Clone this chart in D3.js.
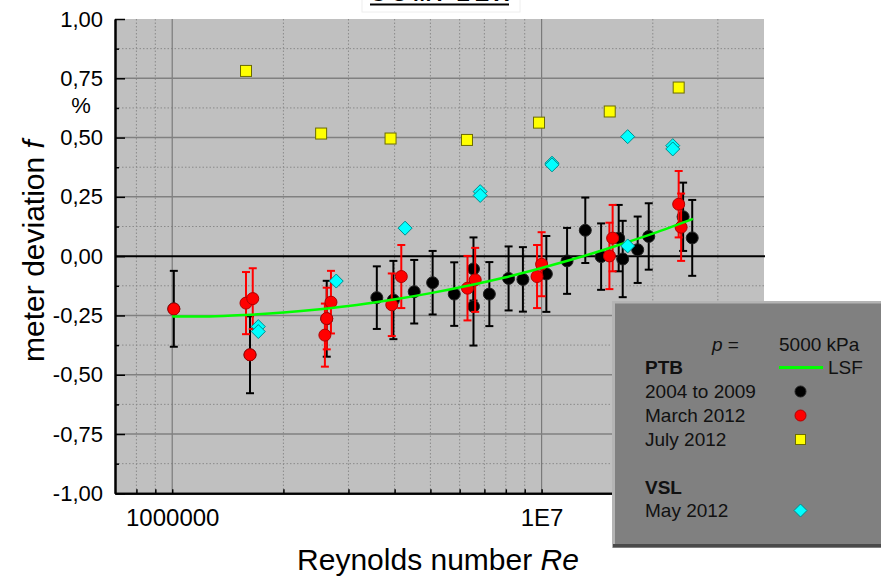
<!DOCTYPE html>
<html><head><meta charset="utf-8">
<script src="https://cdn.jsdelivr.net/npm/d3@7"></script>
<style>
body{margin:0;background:#fff;}
svg{display:block;font-family:"Liberation Sans",Arial,sans-serif;}
</style>
</head><body>
<svg id="c" width="881" height="576"></svg>
<script>
// ---- data ----
const blackRe  = [1.01e6, 1.624e6, 2.62e6, 3.58e6, 3.97e6, 4.52e6, 5.07e6, 5.8e6, 6.54e6, 6.54e6, 7.22e6, 8.14e6, 8.9e6, 1.03e7, 1.172e7, 1.313e7, 1.449e7, 1.617e7, 1.658e7, 1.82e7, 1.95e7, 2.416e7, 2.557e7];
const blackVal = [-0.222, -0.416, -0.264, -0.175, -0.185, -0.150, -0.112, -0.160, -0.054, -0.212, -0.160, -0.094, -0.098, -0.075, -0.020, 0.109, -0.002, 0.076, -0.012, 0.027, 0.083, 0.166, 0.077];
const blackErr = [0.160, 0.162, 0.160, 0.132, 0.165, 0.134, 0.134, 0.134, 0.133, 0.165, 0.135, 0.135, 0.136, 0.160, 0.139, 0.138, 0.140, 0.140, 0.161, 0.140, 0.140, 0.144, 0.160];

const redRe  = [1.01e6, 1.584e6, 1.652e6, 1.624e6, 2.69e6, 2.62e6, 2.59e6, 3.93e6, 4.17e6, 6.3e6, 6.61e6, 9.72e6, 1.0e7, 1.526e7, 1.557e7, 2.35e7, 2.386e7];
const redVal = [-0.223, -0.198, -0.179, -0.416, -0.194, -0.263, -0.333, -0.205, -0.086, -0.135, -0.100, -0.086, -0.034, 0.001, 0.076, 0.219, 0.122];
const redErr = [0, 0.131, 0.128, 0, 0.132, 0.130, 0.133, 0.132, 0.133, 0.136, 0.135, 0.133, 0.135, 0.140, 0.140, 0.140, 0.142];

const yellowRe  = [1.584e6, 2.53e6, 3.9e6, 6.28e6, 9.84e6, 1.529e7, 2.35e7];
const yellowVal = [0.781, 0.517, 0.496, 0.490, 0.563, 0.610, 0.711];

const cyanRe  = [1.71e6, 1.71e6, 2.78e6, 4.27e6, 6.82e6, 6.82e6, 1.067e7, 1.067e7, 1.71e7, 1.71e7, 2.265e7, 2.265e7];
const cyanVal = [-0.297, -0.318, -0.105, 0.118, 0.272, 0.256, 0.392, 0.385, 0.043, 0.504, 0.466, 0.452];

const lsfRe  = [1.0e6, 1.26e6, 1.58e6, 2.0e6, 2.51e6, 3.16e6, 3.98e6, 5.01e6, 6.31e6, 7.94e6, 1.0e7, 1.26e7, 1.58e7, 2.0e7, 2.57e7];
const lsfVal = [-0.255, -0.254, -0.248, -0.238, -0.224, -0.206, -0.183, -0.156, -0.125, -0.090, -0.050, -0.006, 0.042, 0.095, 0.157];

const xMajorTicks = [1e6, 1e7];
const xTickLabels = ["1000000", "1E7"];
const xMinorTicks = [8e5, 9e5, 2e6, 3e6, 4e6, 5e6, 6e6, 7e6, 8e6, 9e6, 2e7, 3e7];
const yMajorTicks = [-1, -0.75, -0.5, -0.25, 0, 0.25, 0.5, 0.75, 1];
const yMinorTicks = [-0.875, -0.625, -0.375, -0.125, 0.125, 0.375, 0.625, 0.875];

const legendRows = ["2004 to 2009", "March 2012", "July 2012", "May 2012"];

// ---- layout ----
const svg = d3.select("#c");
const L = 115, R = 764, T = 19, B = 493.3;
const x = d3.scaleLog().domain([7e5, 4e7]).range([L, R]);
const y = d3.scaleLinear().domain([-1, 1]).range([B, T]);

// title (clipped at top, as in the source image)
svg.append("rect").attr("x", 362).attr("y", -1).attr("width", 158).attr("height", 13)
  .attr("fill", "#fff").attr("stroke", "#eee");
svg.append("text").attr("x", 370).attr("y", 1).attr("font-size", 22).attr("font-weight", "bold")
  .attr("textLength", 139).text("COMPLEX");
svg.append("line").attr("x1", 370).attr("x2", 509).attr("y1", 4.5).attr("y2", 4.5)
  .attr("stroke", "#000").attr("stroke-width", 2.2);

// plot background
svg.append("rect").attr("x", L).attr("y", T).attr("width", R - L).attr("height", B - T).attr("fill", "#c0c0c0");

const grid = svg.append("g");
grid.selectAll(".vmin").data(xMinorTicks).join("line")
  .attr("x1", d => x(d)).attr("x2", d => x(d)).attr("y1", T).attr("y2", B)
  .attr("stroke", "#8a8a8a").attr("stroke-width", 1).attr("stroke-dasharray", "1.5,2");
grid.selectAll(".hmin").data(yMinorTicks).join("line")
  .attr("x1", L).attr("x2", R).attr("y1", d => y(d)).attr("y2", d => y(d))
  .attr("stroke", "#8a8a8a").attr("stroke-width", 1).attr("stroke-dasharray", "1.5,2");
grid.selectAll(".vmaj").data(xMajorTicks).join("line")
  .attr("x1", d => x(d)).attr("x2", d => x(d)).attr("y1", T).attr("y2", B)
  .attr("stroke", "#7a7a7a").attr("stroke-width", 1.2);
grid.selectAll(".hmaj").data(yMajorTicks.filter(d => d !== 0 && Math.abs(d) !== 1)).join("line")
  .attr("x1", L).attr("x2", R).attr("y1", d => y(d)).attr("y2", d => y(d))
  .attr("stroke", "#808080").attr("stroke-width", 1.5);
grid.append("line").attr("x1", L).attr("x2", R + 1).attr("y1", y(0)).attr("y2", y(0))
  .attr("stroke", "#000").attr("stroke-width", 2);

// axes
const fmt = v => v.toFixed(2).replace(".", ",");
const yAxis = svg.append("g").attr("transform", `translate(${L},0)`)
  .call(d3.axisLeft(y).tickValues(yMajorTicks).tickSize(-10).tickSizeOuter(0).tickPadding(12).tickFormat(fmt));
const yAxisMin = svg.append("g").attr("transform", `translate(${L},0)`)
  .call(d3.axisLeft(y).tickValues(yMinorTicks).tickSize(-4).tickSizeOuter(0).tickFormat(""));
const xAxis = svg.append("g").attr("transform", `translate(0,${B})`)
  .call(d3.axisBottom(x).tickValues(xMajorTicks).tickSize(-4).tickSizeOuter(0).tickPadding(16)
    .tickFormat((d, i) => xTickLabels[i]));
const xAxisMin = svg.append("g").attr("transform", `translate(0,${B})`)
  .call(d3.axisBottom(x).tickValues(xMinorTicks).tickSize(-4).tickSizeOuter(0).tickFormat(""));
[yAxis, yAxisMin, xAxis, xAxisMin].forEach(g => {
  g.select(".domain").attr("stroke", "#000").attr("stroke-width", 2);
  g.selectAll(".tick line").attr("stroke", "#000").attr("stroke-width", 1.5);
  g.selectAll("text").attr("fill", "#000").attr("font-family", "'Liberation Sans',Arial,sans-serif");
});
yAxis.selectAll("text").attr("font-size", 22);
xAxis.selectAll("text").attr("font-size", 24);

// axis titles
svg.append("text").attr("x", 81).attr("y", 113).attr("text-anchor", "middle").attr("font-size", 22).text("%");
const yl = svg.append("text").attr("transform", "translate(44,251) rotate(-90)")
  .attr("text-anchor", "middle").attr("font-size", 30);
yl.append("tspan").text("meter deviation ");
yl.append("tspan").attr("font-style", "italic").text("f");
const xl = svg.append("text").attr("x", 438).attr("y", 570).attr("text-anchor", "middle").attr("font-size", 30);
xl.append("tspan").text("Reynolds number ");
xl.append("tspan").attr("font-style", "italic").text("Re");

// ---- marks ----
const black = blackRe.map((r, i) => ({r, v: blackVal[i], e: blackErr[i]}));
const red = redRe.map((r, i) => ({r, v: redVal[i], e: redErr[i]}));
const yellow = yellowRe.map((r, i) => ({r, v: yellowVal[i]}));
const cyan = cyanRe.map((r, i) => ({r, v: cyanVal[i]}));
const lsf = lsfRe.map((r, i) => ({r, v: lsfVal[i]}));

function errBars(g, data, color) {
  const d0 = data.filter(d => d.e > 0);
  g.selectAll(null).data(d0).join("line")
    .attr("x1", d => x(d.r)).attr("x2", d => x(d.r))
    .attr("y1", d => y(d.v + d.e)).attr("y2", d => y(d.v - d.e))
    .attr("stroke", color).attr("stroke-width", 2);
  [1, -1].forEach(s => {
    g.selectAll(null).data(d0).join("line")
      .attr("x1", d => x(d.r) - 4).attr("x2", d => x(d.r) + 4)
      .attr("y1", d => y(d.v + s * d.e)).attr("y2", d => y(d.v + s * d.e))
      .attr("stroke", color).attr("stroke-width", 2);
  });
}

const gB = svg.append("g");
errBars(gB, black, "#000");
gB.selectAll("circle").data(black).join("circle")
  .attr("cx", d => x(d.r)).attr("cy", d => y(d.v)).attr("r", 6)
  .attr("fill", "#000").attr("stroke", "#222").attr("stroke-width", 1);

const gR = svg.append("g");
errBars(gR, red, "#ff0000");
gR.selectAll("circle").data(red).join("circle")
  .attr("cx", d => x(d.r)).attr("cy", d => y(d.v)).attr("r", 6)
  .attr("fill", "#ff0000").attr("stroke", "#b00000").attr("stroke-width", 1);

svg.append("path").datum(lsf)
  .attr("d", d3.line().x(d => x(d.r)).y(d => y(d.v)).curve(d3.curveMonotoneX))
  .attr("fill", "none").attr("stroke", "#00ff00").attr("stroke-width", 2.5);

svg.append("g").selectAll("rect").data(yellow).join("rect")
  .attr("x", d => x(d.r) - 5.5).attr("y", d => y(d.v) - 5.5).attr("width", 11).attr("height", 11)
  .attr("fill", "#ffff00").attr("stroke", "#6b6b00").attr("stroke-width", 1);

svg.append("g").selectAll("path").data(cyan).join("path")
  .attr("d", d => { const cx = x(d.r), cy = y(d.v), h = 7; return `M${cx},${cy - h}L${cx + h},${cy}L${cx},${cy + h}L${cx - h},${cy}Z`; })
  .attr("fill", "#00ffff").attr("stroke", "#008b8b").attr("stroke-width", 1);

// ---- legend ----
const lg = svg.append("g");
lg.append("rect").attr("x", 612).attr("y", 301).attr("width", 272).attr("height", 247).attr("fill", "#b4b4b4");
lg.append("rect").attr("x", 615).attr("y", 303.5).attr("width", 270).attr("height", 241).attr("fill", "#808080");
lg.append("rect").attr("x", 613).attr("y", 544).attr("width", 272).attr("height", 3.5).attr("fill", "#4a4a4a");
const lt = (xx, yy, s, opts = {}) => {
  const t = lg.append("text").attr("x", xx).attr("y", yy).attr("font-size", 19).attr("fill", "#111").text(s);
  if (opts.bold) t.attr("font-weight", "bold");
  if (opts.italic) t.attr("font-style", "italic");
  return t;
};
const pt = lg.append("text").attr("x", 712).attr("y", 351).attr("font-size", 19).attr("fill", "#111");
pt.append("tspan").attr("font-style", "italic").text("p");
pt.append("tspan").text(" =");
lt(779, 351, "5000 kPa");
lt(645, 374, "PTB", {bold: true});
lg.append("line").attr("x1", 779).attr("x2", 823).attr("y1", 367.5).attr("y2", 367.5).attr("stroke", "#00ff00").attr("stroke-width", 3);
lt(828, 374, "LSF");
lt(645, 398, legendRows[0]);
lt(645, 422, legendRows[1]);
lt(645, 446, legendRows[2]);
lt(645, 494, "VSL", {bold: true});
lt(645, 517, legendRows[3]);
lg.append("circle").attr("cx", 800.5).attr("cy", 391.5).attr("r", 5.5).attr("fill", "#000").attr("stroke", "#222");
lg.append("circle").attr("cx", 800.5).attr("cy", 415.5).attr("r", 5.5).attr("fill", "#ff0000").attr("stroke", "#b00000");
lg.append("rect").attr("x", 795.5).attr("y", 434.5).attr("width", 10).attr("height", 10).attr("fill", "#ffff00").attr("stroke", "#6b6b00");
lg.append("path").attr("d", "M800.5,504L807,510.5L800.5,517L794,510.5Z").attr("fill", "#00ffff").attr("stroke", "#008b8b");
</script>
</body></html>
